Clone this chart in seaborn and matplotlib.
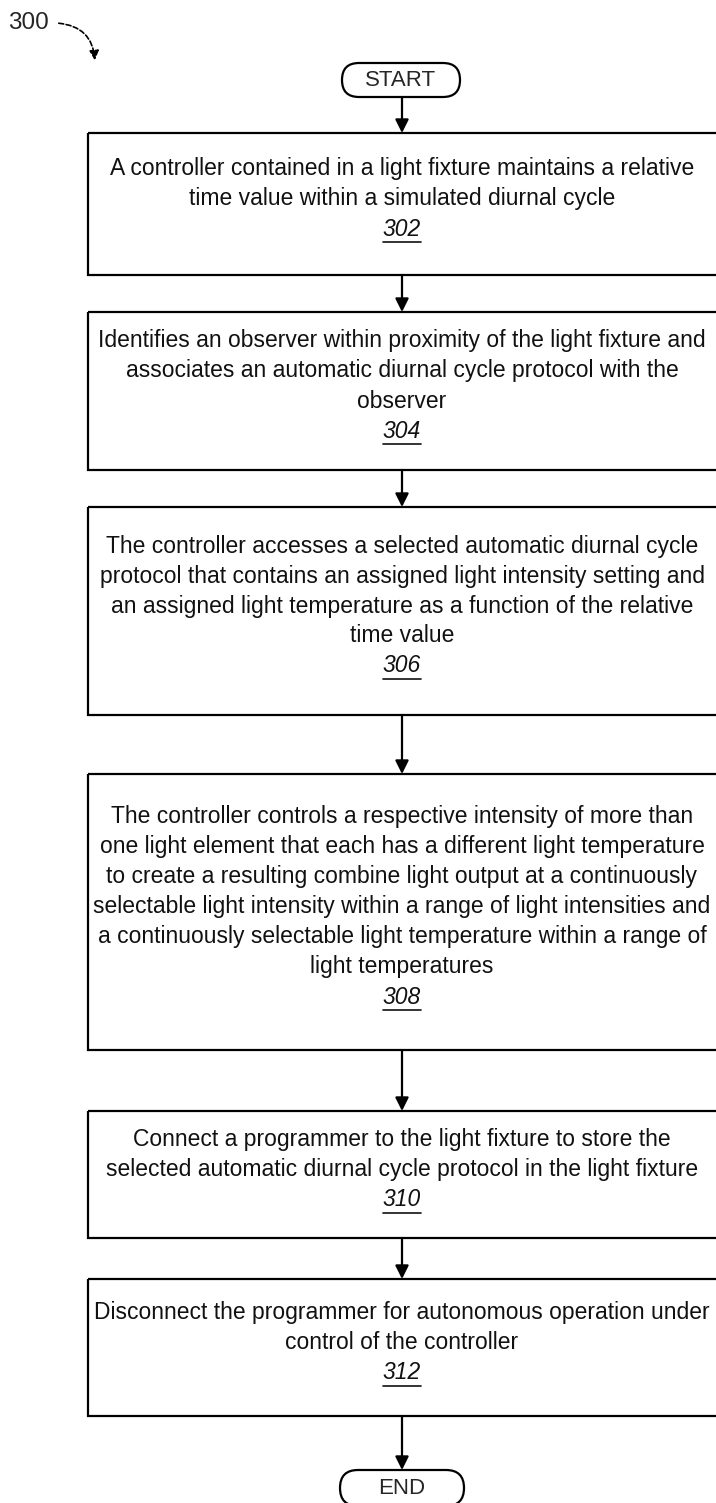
import matplotlib
matplotlib.use("Agg")
import matplotlib.pyplot as plt
import seaborn as sns
from matplotlib.patches import FancyBboxPatch, Rectangle, FancyArrowPatch

# ---- content ----
figure_ref = "300"
start_label = "START"
end_label = "END"
step_labels = ["302", "304", "306", "308", "310", "312"]
step_texts = [
    ["A controller contained in a light fixture maintains a relative",
     "time value within a simulated diurnal cycle"],
    ["Identifies an observer within proximity of the light fixture and",
     "associates an automatic diurnal cycle protocol with the",
     "observer"],
    ["The controller accesses a selected automatic diurnal cycle",
     "protocol that contains an assigned light intensity setting and",
     "an assigned light temperature as a function of the relative",
     "time value"],
    ["The controller controls a respective intensity of more than",
     "one light element that each has a different light temperature",
     "to create a resulting combine light output at a continuously",
     "selectable light intensity within a range of light intensities and",
     "a continuously selectable light temperature within a range of",
     "light temperatures"],
    ["Connect a programmer to the light fixture to store the",
     "selected automatic diurnal cycle protocol in the light fixture"],
    ["Disconnect the programmer for autonomous operation under",
     "control of the controller"],
]

# ---- layout (pixel space of the page) ----
box_top = [133, 312, 507, 774, 1111, 1279]
box_bot = [275, 470, 715, 1050, 1238, 1416]
box_left, box_right = 88, 718
cx = 402
line_gap = 30
start_box = (342, 63, 460, 97)
end_box = (340, 1470, 464, 1506)

sns.set_theme(style="white")
plt.rcParams['font.family'] = ['Liberation Sans', 'DejaVu Sans']

fig = plt.figure(figsize=(7.16, 15.03), dpi=100)
ax = fig.add_axes([0, 0, 1, 1])
ax.set_xlim(0, 716)
ax.set_ylim(1503, 0)
ax.axis('off')

lw = 1.6
fs = 16.5

def pill(box, label):
    x0, y0, x1, y1 = box
    h = y1 - y0
    r = h / 2
    p = FancyBboxPatch((x0 + r, y0 + r), (x1 - x0) - 2 * r, 0,
                       boxstyle=f"round,pad={r},rounding_size={r}",
                       fc='white', ec='black', lw=lw, clip_on=True)
    ax.add_patch(p)
    ax.text((x0 + x1) / 2, (y0 + y1) / 2 + 1, label, ha='center', va='center',
            fontsize=fs - 0.5)

def arrow(y_from, y_to):
    ax.annotate("", xy=(cx, y_to), xytext=(cx, y_from),
                arrowprops=dict(arrowstyle='-|>', lw=lw, color='black',
                                mutation_scale=20, shrinkA=0, shrinkB=0))

pill(start_box, start_label)
arrow(start_box[3], box_top[0])

for i, (lines, lab) in enumerate(zip(step_texts, step_labels)):
    t, b = box_top[i], box_bot[i]
    ax.add_patch(Rectangle((box_left, t), box_right - box_left, b - t,
                           fill=False, ec='black', lw=lw))
    n = len(lines) + 1
    center = (t + b) / 2 - 5
    y0 = center - (n - 1) * line_gap / 2
    for j, ln in enumerate(lines):
        ax.text(cx, y0 + j * line_gap, ln, ha='center', va='center', fontsize=fs,
                color='#111111')
    ly = y0 + (n - 1) * line_gap
    ax.text(cx, ly, lab, ha='center', va='center', fontsize=fs, style='italic',
            color='#111111')
    ax.plot([cx - 19, cx + 19], [ly + 13, ly + 13], color='#111111', lw=1.2)
    if i < len(step_texts) - 1:
        arrow(b, box_top[i + 1])

arrow(box_bot[-1], end_box[1])
pill(end_box, end_label)

# figure reference with curved arrow
ax.text(8, 23, figure_ref, ha='left', va='center', fontsize=fs + 1)
ax.add_patch(FancyArrowPatch((56, 23), (95, 63), connectionstyle="arc3,rad=-0.45",
                             arrowstyle='-|>', mutation_scale=14, lw=1.2,
                             color='black', linestyle=(0, (3, 1.5))))

fig.savefig("out.png", dpi=100, facecolor='white')
